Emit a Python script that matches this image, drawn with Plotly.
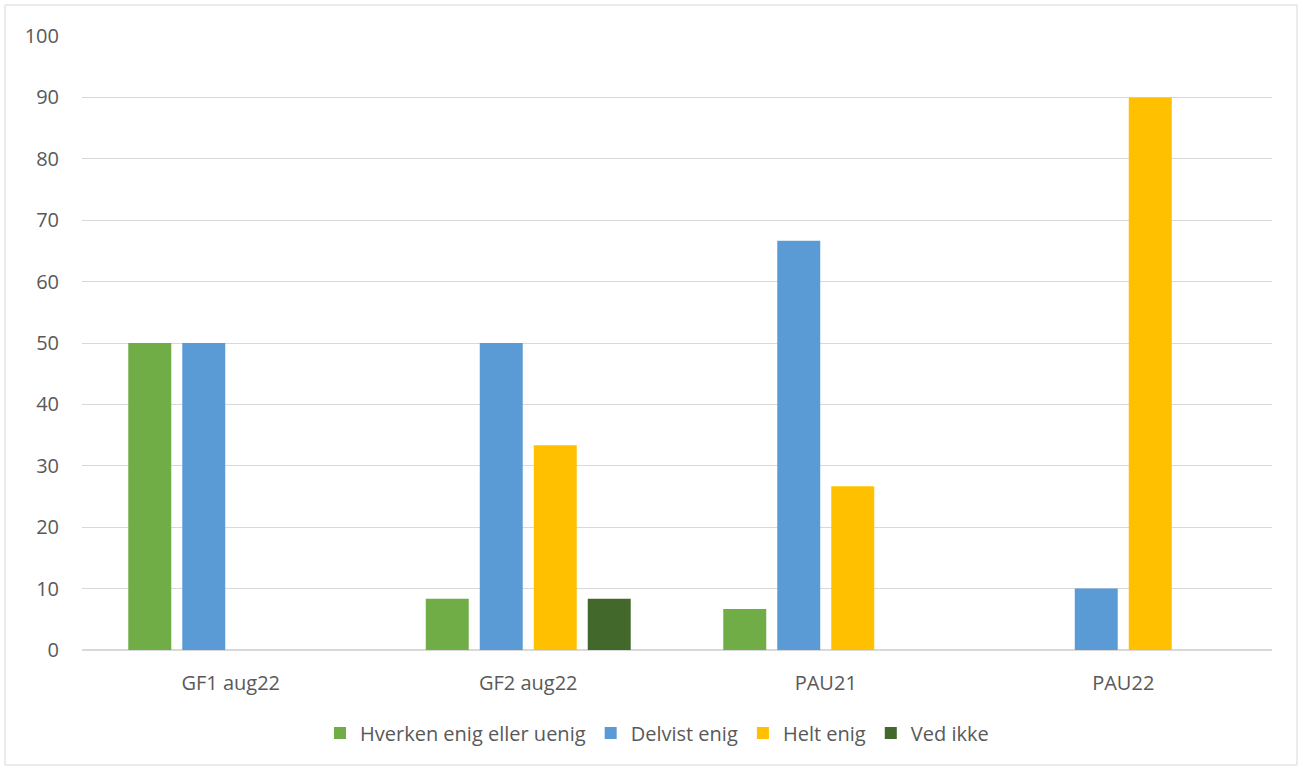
import plotly.graph_objects as go

categories = ["GF1 aug22", "GF2 aug22", "PAU21", "PAU22"]
series_names = ["Hverken enig eller uenig", "Delvist enig", "Helt enig", "Ved ikke"]
hverken = [50, 8.33, 6.67, 0]
delvist = [50, 50, 66.67, 10]
helt = [0, 33.33, 26.67, 90]
ved_ikke = [0, 8.33, 0, 0]
colors = ["#70AD47", "#5B9BD5", "#FFC000", "#43682B"]

fig = go.Figure()
for name, vals, c in zip(series_names, [hverken, delvist, helt, ved_ikke], colors):
    fig.add_trace(go.Bar(x=categories, y=vals, name=name, marker_color=c, marker_line_width=0))

W, H = 1303, 769
l, r, t, b = 82, 31, 36, 119
pw, ph = W - l - r, H - t - b

def px(x):
    return (x - l) / pw

def py(y):
    return (H - b - y) / ph

fig.update_layout(
    width=W, height=H,
    margin=dict(l=l, r=r, t=t, b=b),
    paper_bgcolor="white", plot_bgcolor="white",
    barmode="group", bargap=0.274, bargroupgap=0.204,
    font=dict(family="Open Sans, Liberation Sans, sans-serif", size=20, color="#595959"),
    legend=dict(orientation="h", x=px(657), xanchor="center", y=py(733), yanchor="middle",
                font=dict(size=20, color="#595959"), traceorder="normal", itemwidth=30),
    showlegend=True,
    shapes=[dict(type="rect", xref="paper", yref="paper",
                 x0=px(5), x1=px(1297), y0=py(765), y1=py(5),
                 line=dict(color="#D9D9D9", width=1), fillcolor="rgba(0,0,0,0)", layer="below")],
)
fig.update_yaxes(range=[0, 100], dtick=10, showgrid=True, gridcolor="#D9D9D9", gridwidth=1,
                 zeroline=True, zerolinecolor="#D9D9D9", showline=False, ticks="",
                 ticklabelstandoff=22, tickfont=dict(size=20, color="#595959"))
fig.update_xaxes(showgrid=False, showline=False, ticks="", tickfont=dict(size=20, color="#595959"),
                 ticklabelstandoff=19)

fig.write_html("out.html", config={"displayModeBar": False},
               post_script="document.body.style.margin='0';document.body.style.overflow='hidden';")
